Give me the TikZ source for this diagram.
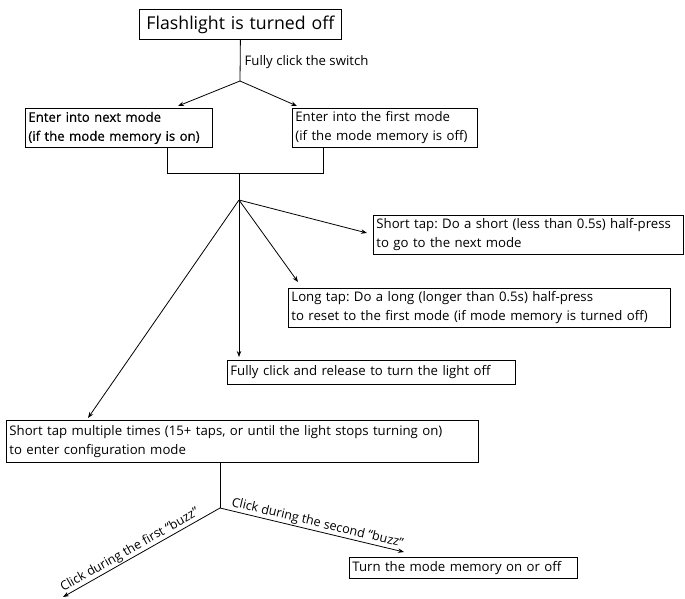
\documentclass[tikz,border=0pt]{standalone}
\usepackage{fontspec}
\setmainfont{Open Sans}
\newfontfamily\semib[FakeBold=0.5]{Open Sans}
\frenchspacing
\usetikzlibrary{arrows.meta}
\begin{document}
\begin{tikzpicture}[x=1pt,y=-1pt, font=\fontsize{13.2}{19}\selectfont,
 box/.style={draw, line width=0.8pt, anchor=north west, inner xsep=3pt, inner ysep=0pt, align=left},
 arr/.style={-{Stealth[length=6pt,width=4.5pt]}, line width=0.8pt},
 ln/.style={line width=0.8pt},
 lab/.style={inner sep=1pt},
 rlab/.style={inner sep=1pt, font=\fontsize{12.6}{15}\selectfont}]
\useasboundingbox (0,0) rectangle (685,599);
% boxes
\node[box, align=center, text width=196pt, minimum height=30pt, font=\fontsize{17.7}{20}\selectfont] (top) at (139,9) {Flashlight is turned off};
\node[box, text width=181pt, minimum height=39pt, font=\semib\fontsize{13.2}{19}\selectfont] (left) at (25,108) {Enter into next mode\\(if the mode memory is on)};
\node[box, text width=179pt, minimum height=39pt] (right) at (292,108) {Enter into the first mode\\(if the mode memory is off)};
\node[box, text width=304pt, minimum height=39pt] (short) at (373,215) {Short tap: Do a short (less than 0.5s) half-press\\to go to the next mode};
\node[box, text width=376pt, minimum height=39pt] (long) at (288,288) {Long tap: Do a long (longer than 0.5s) half-press\\to reset to the first mode (if mode memory is turned off)};
\node[box, text width=282pt, minimum height=24pt] (fully) at (227,360) {Fully click and release to turn the light off};
\node[box, text width=466pt, minimum height=42pt] (config) at (6,420) {Short tap multiple times (15+ taps, or until the light stops turning on)\\to enter configuration mode};
\node[box, text width=222pt, minimum height=21pt] (mode) at (349,557) {Turn the mode memory on or off};
% junctions and arrow tips
\coordinate (A) at (240,81);
\coordinate (M1) at (167,173);
\coordinate (M2) at (323,173);
\coordinate (M) at (239,173);
\coordinate (B) at (239,200);
\coordinate (C) at (220,508);
\coordinate (tl) at (178,106);
\coordinate (tr) at (297,106);
\coordinate (ts) at (367,233);
\coordinate (tlg) at (298,282);
\coordinate (tf) at (239,357);
\coordinate (tc) at (88,418);
\coordinate (t1) at (63,597);
\coordinate (t2) at (404,552);
% connectors
\draw[ln] (top.south) -- node[lab, anchor=west, xshift=3pt, yshift=-2pt] (lab0) {Fully click the switch} (A);
\draw[arr] (A) -- (tl);
\draw[arr] (A) -- (tr);
\draw[ln] (M1 |- left.south) -- (M1) -- (M2) -- (M2 |- right.south);
\draw[ln] (M) -- (B);
\draw[arr] (B) -- (ts);
\draw[arr] (B) -- (tlg);
\draw[arr] (B) -- (tf);
\draw[arr] (B) -- (tc);
\draw[ln] (C |- config.south) -- (C);
\draw[arr] (C) -- node[rlab, sloped, above, pos=0.55] (lab1) {Click during the first “buzz”} (t1);
\draw[arr] (C) -- node[rlab, sloped, above, pos=0.52] (lab2) {Click during the second “buzz”} (t2);
\end{tikzpicture}
\end{document}
